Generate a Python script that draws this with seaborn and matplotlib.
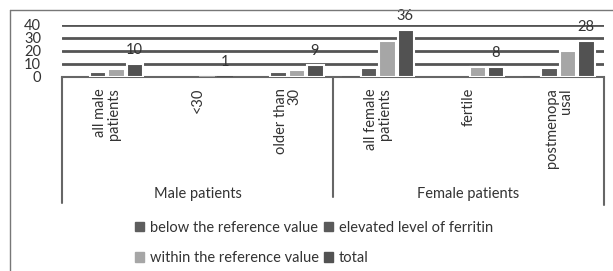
import numpy as np
import pandas as pd
import seaborn as sns
import matplotlib.pyplot as plt
from matplotlib.lines import Line2D

# categories (two-level axis)
groups = ['Male patients', 'Female patients']
subcats = ['all male\npatients', '<30', 'older than\n30',
           'all female\npatients', 'fertile', 'postmenopa\nusal']
series = ['below the reference value', 'elevated level of ferritin',
          'within the reference value', 'total']

below = [0, 0, 0, 1, 0, 1]
elevated = [4, 0, 4, 7, 0, 7]
within = [6, 1, 5, 28, 8, 20]
total = [10, 1, 9, 36, 8, 28]

colors = ['#5e5e5e', '#5a5a5a', '#a6a6a6', '#525252']
txt = '#333333'

rows = []
for name, vals in zip(series, [below, elevated, within, total]):
    for c, v in zip(subcats, vals):
        rows.append({'cat': c, 'series': name, 'value': v})
df = pd.DataFrame(rows)

sns.set_style('white')
plt.rcParams['font.family'] = ['Lato', 'DejaVu Sans']

W, H = 613, 271
fig = plt.figure(figsize=(W / 100, H / 100), dpi=100)
ax = fig.add_axes([62 / W, 1 - 77 / H, (604 - 62) / W, (77 - 25) / H])

sns.barplot(data=df, x='cat', y='value', hue='series', order=subcats,
            hue_order=series, palette=colors, width=0.82, gap=0.12,
            linewidth=0, ax=ax, legend=False, zorder=3)
# white halo around taller bars so gridlines break around them
for p in ax.patches:
    if p.get_height() > 1.5:
        p.set_edgecolor('white')
        p.set_linewidth(1.5)

ax.set_ylim(0, 40)
ax.set_xlim(-0.5, len(subcats) - 0.5)
ax.set_yticks([0, 10, 20, 30, 40])
ax.tick_params(axis='y', labelsize=10.5, labelcolor=txt, length=0, pad=15)
for y in [10, 20, 30, 40]:
    ax.axhline(y, color='#555555', lw=2, zorder=1)
for s in ['top', 'right', 'left']:
    ax.spines[s].set_visible(False)
ax.spines['bottom'].set_color('#666666')
ax.spines['bottom'].set_linewidth(1.5)
ax.set_xlabel('')
ax.set_ylabel('')
ax.set_xticks(range(len(subcats)))
ax.set_xticklabels(subcats, rotation=90, fontsize=10.5, color=txt,
                   va='top', ha='center', multialignment='right',
                   linespacing=1.0)
ax.tick_params(axis='x', length=0, pad=8)

# value labels on total bars
for i, v in enumerate(total):
    ax.annotate(str(v), (i + 0.3, v), xytext=(0, 10), textcoords='offset points',
                ha='center', va='center', fontsize=10.5, color=txt,
                annotation_clip=False)

# multi-level category box
px = 1 / (77 - 25)
def yax(ypix):
    return (77 - ypix) * px
lk = dict(color='#666666', lw=1.5, transform=ax.transAxes, clip_on=False)
ax.plot([0, 0], [0, yax(203)], **lk)
ax.plot([0.5, 0.5], [0, yax(197)], **lk)
ax.plot([1, 1], [0, yax(205)], **lk)
for j, g in enumerate(groups):
    ax.text(0.25 + 0.5 * j, yax(194), g, transform=ax.transAxes, ha='center',
            va='center', fontsize=10.5, color=txt)

# legend
handles = [plt.Rectangle((0, 0), 1, 1, color=c) for c in colors]
order = [0, 2, 1, 3]
fig.legend([handles[k] for k in order], [series[k] for k in order],
           loc='center', bbox_to_anchor=(314 / W, 1 - 243 / H), ncol=2,
           frameon=False, fontsize=10.5, handlelength=0.6, handleheight=0.6,
           handletextpad=0.4, columnspacing=0.4, labelspacing=1.1,
           labelcolor=txt)

# outer chart frame
fig.add_artist(Line2D([10 / W, 10 / W], [0, 1 - 10 / H], color='#777777', lw=1))
fig.add_artist(Line2D([10 / W, 1], [1 - 10 / H, 1 - 10 / H], color='#777777', lw=1))

fig.savefig('out.png', dpi=100)
